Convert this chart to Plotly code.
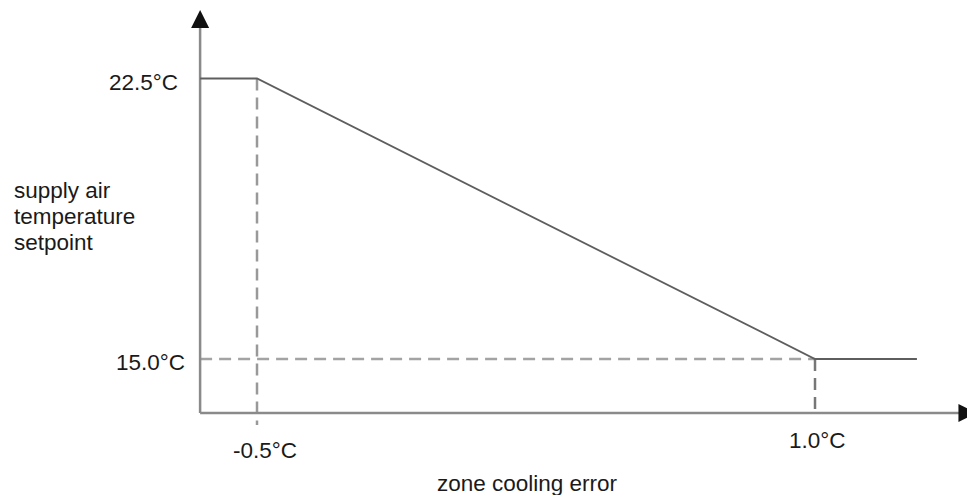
import plotly.graph_objects as go

# ---- data ----
error_breakpoints = [-0.5, 1.0]          # zone cooling error (°C)
setpoint_values = [22.5, 15.0]           # supply air temperature setpoint (°C)
x_tick_labels = ["-0.5°C", "1.0°C"]
y_tick_labels = ["22.5°C", "15.0°C"]
x_title = "zone cooling error"
y_title_lines = ["supply air", "temperature", "setpoint"]

# ---- chart extents (data units) ----
x_origin, x_line_end, x_arrow_tip = -0.653, 1.274, 1.434
y_origin, y_arrow_tip = 13.556, 24.33
x_range = [-1.1694, 1.4301]
y_range = [11.364, 24.385]

W, H = 967, 487   # page body keeps an 8px margin

FONT = "Liberation Sans, Arial, Helvetica, sans-serif"
FS = 22.5
AXIS_C = "#8a8a8a"
LINE_C = "#5e5e5e"
DASH_C = "#a3a3a3"
TEXT_C = "#1a1a1a"

fig = go.Figure()

# dashed guide lines
fig.add_trace(go.Scatter(
    x=[error_breakpoints[0], error_breakpoints[0]],
    y=[setpoint_values[0], 13.235],
    mode="lines", line=dict(color="#999999", width=2.5, dash="12px,7px"),
    hoverinfo="skip", showlegend=False))
fig.add_trace(go.Scatter(
    x=[x_origin, error_breakpoints[1]],
    y=[setpoint_values[1], setpoint_values[1]],
    mode="lines", line=dict(color=DASH_C, width=2.5, dash="12px,7px"),
    hoverinfo="skip", showlegend=False))
fig.add_trace(go.Scatter(
    x=[error_breakpoints[1], error_breakpoints[1]],
    y=[setpoint_values[1], y_origin],
    mode="lines", line=dict(color="#777777", width=2.5, dash="12px,7px"),
    hoverinfo="skip", showlegend=False))

# axes
fig.add_trace(go.Scatter(
    x=[x_origin, x_origin], y=[y_origin, y_arrow_tip - 0.3],
    mode="lines", line=dict(color=AXIS_C, width=2.5),
    hoverinfo="skip", showlegend=False))
fig.add_trace(go.Scatter(
    x=[x_origin, x_arrow_tip - 0.03], y=[y_origin, y_origin],
    mode="lines", line=dict(color=AXIS_C, width=2.5),
    hoverinfo="skip", showlegend=False))

# reset curve
fig.add_trace(go.Scatter(
    x=[x_origin] + error_breakpoints + [x_line_end],
    y=[setpoint_values[0]] + setpoint_values + [setpoint_values[1]],
    mode="lines", line=dict(color=LINE_C, width=1.8),
    hoverinfo="skip", showlegend=False))

# arrowheads
fig.add_annotation(x=x_origin, y=y_arrow_tip, ax=x_origin, ay=y_arrow_tip - 0.45,
                   xref="x", yref="y", axref="x", ayref="y", text="",
                   showarrow=True, arrowhead=2, arrowsize=1.8, arrowwidth=2,
                   arrowcolor="#111111")
fig.add_annotation(x=x_arrow_tip, y=y_origin, ax=x_arrow_tip - 0.045, ay=y_origin,
                   xref="x", yref="y", axref="x", ayref="y", text="",
                   showarrow=True, arrowhead=2, arrowsize=1.8, arrowwidth=2,
                   arrowcolor="#111111")

# tick labels
fig.add_annotation(x=x_origin, y=setpoint_values[0], text=y_tick_labels[0],
                   xanchor="right", yanchor="middle", xshift=-20, yshift=-4,
                   showarrow=False, font=dict(family=FONT, size=FS, color=TEXT_C))
fig.add_annotation(x=x_origin, y=setpoint_values[1], text=y_tick_labels[1],
                   xanchor="right", yanchor="middle", xshift=-13, yshift=-3,
                   showarrow=False, font=dict(family=FONT, size=FS, color=TEXT_C))
fig.add_annotation(x=error_breakpoints[0], y=y_origin, text=x_tick_labels[0],
                   xanchor="center", yanchor="middle", xshift=8, yshift=-37,
                   showarrow=False, font=dict(family=FONT, size=FS, color=TEXT_C))
fig.add_annotation(x=error_breakpoints[1], y=y_origin, text=x_tick_labels[1],
                   xanchor="center", yanchor="middle", xshift=2, yshift=-27,
                   showarrow=False, font=dict(family=FONT, size=FS, color=TEXT_C))

# axis titles
fig.add_annotation(x=519 / W, y=1 - 475 / H, xref="paper", yref="paper", text=x_title,
                   xanchor="center", yanchor="middle", showarrow=False,
                   font=dict(family=FONT, size=FS, color=TEXT_C))
for i, line in enumerate(y_title_lines):
    fig.add_annotation(x=4 / W, y=1 - (182 + 26 * i) / H, xref="paper", yref="paper",
                       text=line, xanchor="left", yanchor="middle", showarrow=False,
                       font=dict(family=FONT, size=FS, color=TEXT_C))

fig.update_layout(
    width=W, height=H,
    margin=dict(l=0, r=0, t=0, b=0),
    paper_bgcolor="white", plot_bgcolor="white",
    xaxis=dict(range=x_range, visible=False, fixedrange=True),
    yaxis=dict(range=y_range, visible=False, fixedrange=True),
    showlegend=False,
)

fig.write_html("out.html")
